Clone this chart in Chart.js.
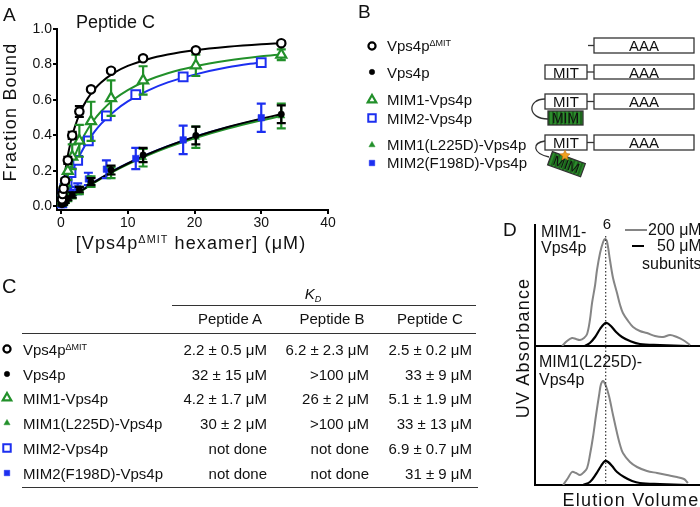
<!DOCTYPE html>
<html>
<head>
<meta charset="utf-8">
<script src="https://cdn.jsdelivr.net/npm/chart.js"></script>
<style>
  body { margin: 0; width: 700px; height: 507px; background: #fff; overflow: hidden; position: relative; font-family: "Liberation Sans", Arial, sans-serif; }
  canvas { position: absolute; }
  .t { position: absolute; line-height: 1; white-space: nowrap; color: #111; font-family: "Liberation Sans", Arial, sans-serif; }
  .t sup { font-size: 60%; vertical-align: 0.55em; line-height: 0; }
  .t sub { font-size: 60%; vertical-align: -0.3em; line-height: 0; }
  .mk { position: absolute; }
</style>
</head>
<body>
<canvas id="chartA" width="340" height="262" style="left:0;top:0"></canvas>
<canvas id="traceTop" width="167" height="123" style="left:533px;top:224px"></canvas>
<canvas id="traceBottom" width="167" height="141" style="left:533px;top:345px"></canvas>

<svg width="700" height="507" style="position:absolute;left:0;top:0">
  <defs>
    <pattern id="stripes" width="4" height="4" patternUnits="userSpaceOnUse">
      <rect width="4" height="4" fill="#2c8c2c"/>
      <line x1="1" y1="0" x2="1" y2="4" stroke="#135213" stroke-width="1.3"/>
    </pattern>
  </defs>
  <g stroke="#333" stroke-width="1.3" fill="#fff">
    <line x1="588" y1="45.5" x2="594" y2="45.5"/>
    <rect x="594" y="38" width="100" height="15"/>
    <rect x="545" y="65" width="42" height="14"/>
    <line x1="587" y1="72" x2="594" y2="72"/>
    <rect x="594" y="65" width="100" height="14"/>
    <rect x="545" y="94" width="42" height="15"/>
    <line x1="587" y1="101.5" x2="594" y2="101.5"/>
    <rect x="594" y="94" width="100" height="15"/>
    <path d="M545,99 C527,99 527,119 548,119" fill="none"/>
    <rect x="548" y="111" width="35" height="14" fill="url(#stripes)"/>
    <rect x="545" y="135" width="42" height="15"/>
    <line x1="587" y1="142.5" x2="594" y2="142.5"/>
    <rect x="594" y="135" width="100" height="15"/>
    <path d="M545,141 C532,143 532,153 549,157" fill="none"/>
    <g transform="rotate(20 566 164)">
      <rect x="549" y="157" width="35" height="14" fill="url(#stripes)"/>
      <text x="566.5" y="169" text-anchor="middle" font-size="14" fill="#111" stroke="none" font-family="Liberation Sans, Arial">MIM</text>
    </g>
    <polygon points="565,150 566.5,153.5 570,154 567.3,156.3 568,160 565,158 562,160 562.7,156.3 560,154 563.5,153.5" fill="#f0a020" stroke="#c07010" stroke-width="0.6"/>
  </g>
  <g font-family="Liberation Sans, Arial" font-size="15" fill="#111" text-anchor="middle">
    <text x="644" y="51">AAA</text>
    <text x="566" y="77.5">MIT</text><text x="644" y="77.5">AAA</text>
    <text x="566" y="107">MIT</text><text x="644" y="107">AAA</text>
    <text x="565.5" y="123" font-size="14">MIM</text>
    <text x="566" y="148">MIT</text><text x="644" y="148">AAA</text>
  </g>
</svg>

<script>
// ---- Panel A: binding data (Peptide C) ----
const concMain = [0.14, 0.23, 0.38, 0.62, 1.02, 1.68, 2.75, 4.5, 7.5, 12.3, 20.2, 33];
const concMim2 = [0.13, 0.21, 0.34, 0.56, 0.92, 1.5, 2.5, 4.1, 6.8, 11.2, 18.3, 30];

const deltaMitBound = [0.04, 0.07, 0.10, 0.145, 0.26, 0.40, 0.535, 0.66, 0.765, 0.835, 0.88, 0.92];
const deltaMitErr   = [0.01, 0.01, 0.01, 0.01, 0.02, 0.02, 0.03, 0.01, 0.01, 0.01, 0.01, 0.01];
const vps4pBound    = [0.01, 0.015, 0.02, 0.03, 0.045, 0.065, 0.095, 0.14, 0.205, 0.29, 0.40, 0.52];
const vps4pErr      = [0.005, 0.005, 0.01, 0.01, 0.01, 0.015, 0.015, 0.02, 0.025, 0.04, 0.05, 0.05];
const mim1Bound     = [0.03, 0.05, 0.08, 0.13, 0.20, 0.28, 0.37, 0.48, 0.61, 0.71, 0.795, 0.855];
const mim1Err       = [0.01, 0.01, 0.02, 0.03, 0.05, 0.07, 0.09, 0.11, 0.10, 0.08, 0.06, 0.03];
const mim1MutBound  = [0.01, 0.015, 0.02, 0.03, 0.04, 0.06, 0.09, 0.14, 0.19, 0.275, 0.39, 0.51];
const mim1MutErr    = [0.005, 0.01, 0.01, 0.01, 0.01, 0.015, 0.02, 0.03, 0.03, 0.05, 0.06, 0.07];
const mim2Bound     = [0.02, 0.04, 0.07, 0.10, 0.14, 0.19, 0.26, 0.37, 0.51, 0.63, 0.73, 0.81];
const mim2Err       = [0.01, 0.01, 0.01, 0.01, 0.015, 0.02, 0.02, 0.02, 0.02, 0.015, 0.015, 0.01];
const mim2MutBound  = [0.01, 0.02, 0.03, 0.05, 0.07, 0.08, 0.10, 0.155, 0.21, 0.27, 0.375, 0.50];
const mim2MutErr    = [0.01, 0.01, 0.01, 0.02, 0.02, 0.03, 0.03, 0.035, 0.05, 0.06, 0.08, 0.08];

// fitted curves
const fitConc      = [0, 0.25, 0.5, 1, 1.5, 2, 3, 4, 5, 6, 8, 10, 13, 16, 20, 25, 30, 33];
const fitDeltaMit  = [0, 0.09, 0.165, 0.283, 0.371, 0.44, 0.54, 0.609, 0.66, 0.699, 0.754, 0.792, 0.83, 0.856, 0.88, 0.90, 0.914, 0.92];
const fitVps4p     = [0, 0.008, 0.016, 0.031, 0.045, 0.059, 0.087, 0.112, 0.137, 0.16, 0.203, 0.242, 0.294, 0.34, 0.392, 0.448, 0.495, 0.52];
const fitMim1      = [0, 0.046, 0.088, 0.162, 0.225, 0.279, 0.367, 0.435, 0.49, 0.535, 0.605, 0.656, 0.711, 0.751, 0.789, 0.822, 0.846, 0.857];
const fitMim1Mut   = [0, 0.008, 0.016, 0.03, 0.044, 0.058, 0.085, 0.11, 0.134, 0.157, 0.199, 0.237, 0.288, 0.333, 0.384, 0.439, 0.485, 0.51];
const fitMim2      = [0, 0.035, 0.068, 0.127, 0.179, 0.225, 0.303, 0.367, 0.42, 0.465, 0.537, 0.592, 0.653, 0.699, 0.743, 0.784, 0.813];
const fitMim2Mut   = [0, 0.008, 0.016, 0.031, 0.046, 0.061, 0.088, 0.114, 0.139, 0.161, 0.205, 0.242, 0.295, 0.34, 0.392, 0.446, 0.492];

const xTicks = [0, 10, 20, 30, 40];
const yTicks = [0, 0.2, 0.4, 0.6, 0.8, 1.0];
const yTickLabels = ['0.0', '0.2', '0.4', '0.6', '0.8', '1.0'];

// ---- Panel C: KD table ----
const constructs = ['Vps4p<sup>ΔMIT</sup>', 'Vps4p', 'MIM1-Vps4p', 'MIM1(L225D)-Vps4p', 'MIM2-Vps4p', 'MIM2(F198D)-Vps4p'];
const constructKeys = ['dmit', 'vps4p', 'mim1', 'mim1m', 'mim2', 'mim2m'];
const peptides = ['Peptide A', 'Peptide B', 'Peptide C'];
const kdPeptideA = ['2.2 ± 0.5 μM', '32 ± 15 μM', '4.2 ± 1.7 μM', '30 ± 2 μM', 'not done', 'not done'];
const kdPeptideB = ['6.2 ± 2.3 μM', '>100 μM', '26 ± 2 μM', '>100 μM', 'not done', 'not done'];
const kdPeptideC = ['2.5 ± 0.2 μM', '33 ± 9 μM', '5.1 ± 1.9 μM', '33 ± 13 μM', '6.9 ± 0.7 μM', '31 ± 9 μM'];

// ---- Panel B: legend order ----
const schemeOrder = ['dmit', 'vps4p', 'mim1', 'mim2', 'mim1m', 'mim2m'];

// ---- Panel D: gel filtration traces (elution volume, absorbance) ----
const peakVolume = 6;
const topGrayVol = [4.15, 4.36, 4.57, 4.74, 4.91, 5.08, 5.21, 5.33, 5.42, 5.55, 5.63, 5.76, 5.89, 5.97, 6.05, 6.18, 6.31, 6.48, 6.61, 6.73, 6.95, 7.16, 7.45, 7.75, 8.09, 8.43, 8.73, 9.02, 9.28, 9.58];
const topGrayAbs = [0, 0.05, 0.08, 0.07, 0.06, 0.08, 0.12, 0.26, 0.43, 0.61, 0.76, 0.93, 1.04, 1.07, 1.05, 0.86, 0.68, 0.53, 0.41, 0.33, 0.25, 0.19, 0.15, 0.13, 0.10, 0.09, 0.11, 0.09, 0.06, 0.01];
const topBlackVol = [5.12, 5.33, 5.55, 5.76, 5.93, 6.05, 6.22, 6.44, 6.69, 7.03, 7.45, 8.30, 9.49];
const topBlackAbs = [0, 0.03, 0.09, 0.17, 0.22, 0.23, 0.20, 0.14, 0.09, 0.05, 0.02, 0.01, 0];
const botGrayVol = [4.19, 4.40, 4.57, 4.74, 4.91, 5.08, 5.21, 5.33, 5.46, 5.59, 5.72, 5.80, 5.89, 6.01, 6.14, 6.31, 6.48, 6.61, 6.73, 7.03, 7.33, 7.75, 8.18, 8.60, 9.02, 9.32, 9.49];
const botGrayAbs = [0, 0.07, 0.13, 0.12, 0.10, 0.13, 0.17, 0.30, 0.48, 0.70, 0.90, 1.01, 1.04, 0.99, 0.89, 0.70, 0.52, 0.40, 0.32, 0.23, 0.18, 0.14, 0.12, 0.10, 0.08, 0.06, 0.02];
const botBlackVol = [5.04, 5.33, 5.59, 5.80, 5.97, 6.10, 6.27, 6.48, 6.78, 7.12, 7.45, 8.30, 9.49];
const botBlackAbs = [0, 0.03, 0.11, 0.19, 0.24, 0.23, 0.19, 0.13, 0.08, 0.04, 0.02, 0.01, 0];

// ---- styles ----
const GREEN = '#22902a';
const BLUE = '#1c2ff0';
const FONT = '"Liberation Sans", Arial, sans-serif';
const markers = {
  dmit:  { pointStyle: 'circle',   radius: 4.2, fill: '#fff', color: '#000', bw: 2.2 },
  vps4p: { pointStyle: 'circle',   radius: 3.2, fill: '#000', color: '#000', bw: 0.5 },
  mim1:  { pointStyle: 'triangle', radius: 5.8, fill: '#fff', color: GREEN, bw: 2.2 },
  mim1m: { pointStyle: 'triangle', radius: 4.2, fill: GREEN, color: GREEN, bw: 0.5 },
  mim2:  { pointStyle: 'rect',     radius: 6.2, fill: '#fff', color: BLUE, bw: 2 },
  mim2m: { pointStyle: 'rect',     radius: 4.6, fill: BLUE, color: BLUE, bw: 0.5 }
};

const pts = (xs, ys) => ys.map((y, i) => ({ x: xs[i], y }));

function markerSet(key, xs, ys, errs) {
  const m = markers[key];
  return {
    type: 'scatter', data: pts(xs, ys), errors: errs, order: 0,
    pointStyle: m.pointStyle, pointRadius: m.radius,
    pointBackgroundColor: m.fill, pointBorderColor: m.color, pointBorderWidth: m.bw,
    borderColor: m.color, showLine: false
  };
}
function fitSet(ys, color) {
  return {
    type: 'line', data: pts(fitConc, ys), order: 1,
    borderColor: color, borderWidth: 2, pointRadius: 0,
    cubicInterpolationMode: 'monotone', fill: false
  };
}

const errorBars = {
  id: 'errorBars',
  beforeDatasetDraw(chart, args) {
    const ds = chart.data.datasets[args.index];
    if (!ds.errors) return;
    const { ctx, scales: { x, y } } = chart;
    ctx.save();
    ctx.strokeStyle = ds.borderColor;
    ctx.lineWidth = 2.2;
    ds.data.forEach((p, i) => {
      const px = x.getPixelForValue(p.x);
      const top = y.getPixelForValue(p.y + ds.errors[i]);
      const bot = y.getPixelForValue(p.y - ds.errors[i]);
      ctx.beginPath();
      ctx.moveTo(px, top); ctx.lineTo(px, bot);
      ctx.moveTo(px - 4.5, top); ctx.lineTo(px + 4.5, top);
      ctx.moveTo(px - 4.5, bot); ctx.lineTo(px + 4.5, bot);
      ctx.stroke();
    });
    ctx.restore();
  }
};

new Chart(document.getElementById('chartA'), {
  data: {
    datasets: [
      markerSet('dmit', concMain, deltaMitBound, deltaMitErr),
      markerSet('vps4p', concMain, vps4pBound, vps4pErr),
      markerSet('mim1', concMain, mim1Bound, mim1Err),
      markerSet('mim1m', concMain, mim1MutBound, mim1MutErr),
      markerSet('mim2', concMim2, mim2Bound, mim2Err),
      markerSet('mim2m', concMim2, mim2MutBound, mim2MutErr),
      fitSet(fitVps4p, '#000'),
      fitSet(fitDeltaMit, '#000'),
      fitSet(fitMim1, GREEN),
      fitSet(fitMim1Mut, GREEN),
      fitSet(fitMim2, BLUE),
      fitSet(fitMim2Mut, BLUE)
    ]
  },
  options: {
    responsive: false, animation: false,
    layout: { padding: { left: 0, right: 12, top: 29, bottom: 0 } },
    plugins: { legend: { display: false }, tooltip: { enabled: false } },
    elements: { point: { hitRadius: 0 } },
    scales: {
      x: {
        type: 'linear', min: -0.6, max: 40,
        afterBuildTicks: s => { s.ticks = xTicks.map(v => ({ value: v })); },
        afterFit: s => { s.height = 52; },
        border: { display: true, color: '#000', width: 2 },
        grid: { display: true, drawOnChartArea: false, drawTicks: true, tickLength: 4, color: '#000', lineWidth: 2 },
        ticks: { color: '#111', font: { family: FONT, size: 14 }, padding: 1, maxRotation: 0 }
      },
      y: {
        type: 'linear', min: -0.02, max: 1.0,
        afterBuildTicks: s => { s.ticks = yTicks.map(v => ({ value: v })); },
        afterFit: s => { s.width = 57; },
        border: { display: true, color: '#000', width: 2 },
        grid: { display: true, drawOnChartArea: false, drawTicks: true, tickLength: 4, color: '#000', lineWidth: 2 },
        ticks: { color: '#111', font: { family: FONT, size: 14 }, padding: 1, callback: (v, i) => yTickLabels[yTicks.indexOf(v)] }
      }
    }
  },
  plugins: [errorBars]
});

// ---- Panel D charts ----
function traceChart(id, yMax, gx, gy, bx, by, dotTop) {
  new Chart(document.getElementById(id), {
    type: 'line',
    data: {
      datasets: [
        { data: pts(bx, by), borderColor: '#000', borderWidth: 2.2, pointRadius: 0, tension: 0.35 },
        { data: [{ x: peakVolume, y: 0 }, { x: peakVolume, y: dotTop }], borderColor: '#222', borderWidth: 1.1, borderDash: [1.5, 2], pointRadius: 0 },
        { data: pts(gx, gy), borderColor: '#858585', borderWidth: 2, pointRadius: 0, tension: 0.35 }
      ]
    },
    options: {
      responsive: false, animation: false,
      layout: { padding: { left: 2, right: 0, top: 1, bottom: 1 } },
      plugins: { legend: { display: false }, tooltip: { enabled: false } },
      scales: {
        x: {
          type: 'linear', min: 3, max: 10,
          afterFit: s => { s.height = 0; },
          border: { display: true, color: '#000', width: 2 },
          grid: { display: false, drawTicks: false }, ticks: { display: false }
        },
        y: {
          type: 'linear', min: 0, max: yMax,
          afterFit: s => { s.width = 0; },
          border: { display: true, color: '#000', width: 2 },
          grid: { display: false, drawTicks: false }, ticks: { display: false }
        }
      }
    }
  });
}
traceChart('traceTop', 1.21, topGrayVol, topGrayAbs, topBlackVol, topBlackAbs, 1.12);
traceChart('traceBottom', 1.39, botGrayVol, botGrayAbs, botBlackVol, botBlackAbs, 1.39);

// ---- text helpers ----
function put(html, x, y, size, align, extra) {
  const d = document.createElement('div');
  d.className = 't';
  d.innerHTML = html;
  d.style.fontSize = size + 'px';
  d.style.left = x + 'px';
  d.style.top = (y - 0.5 * size) + 'px';
  const tx = align === 'center' ? '-50%' : align === 'right' ? '-100%' : '0';
  d.style.transform = 'translateX(' + tx + ')';
  Object.assign(d.style, extra || {});
  document.body.appendChild(d);
  return d;
}
function marker(key, cx, cy) {
  const m = markers[key];
  const c = document.createElement('canvas');
  c.width = 16; c.height = 16; c.className = 'mk';
  c.style.left = (cx - 8) + 'px'; c.style.top = (cy - 8) + 'px';
  document.body.appendChild(c);
  const ctx = c.getContext('2d');
  ctx.fillStyle = m.fill; ctx.strokeStyle = m.color; ctx.lineWidth = m.bw;
  Chart.helpers.drawPoint(ctx, { pointStyle: m.pointStyle, radius: m.radius * 0.85, borderWidth: m.bw, rotation: 0 }, 8, 8);
}

// panel letters
put('A', 3, 14, 19);
put('B', 358, 11, 19);
put('C', 2, 286, 20);
put('D', 503, 229, 19);

// panel A text
put('Peptide C', 76, 22, 18);
const yTitle = put('Fraction Bound', 10, 112, 18, null, { letterSpacing: '1.2px' });
yTitle.style.transform = 'translate(-50%, 0) rotate(-90deg)';
yTitle.style.transformOrigin = '50% 50%';
put('[Vps4p<sup>ΔMIT</sup> hexamer] (μM)', 191, 243, 18, 'center', { letterSpacing: '1.1px' });

// panel B legend
const schemeNames = { dmit: 'Vps4p<sup>ΔMIT</sup>', vps4p: 'Vps4p', mim1: 'MIM1-Vps4p', mim2: 'MIM2-Vps4p', mim1m: 'MIM1(L225D)-Vps4p', mim2m: 'MIM2(F198D)-Vps4p' };
const schemeRowY = [45.5, 72, 99.5, 118, 144.5, 162.5];
schemeOrder.forEach((k, i) => {
  marker(k, 371.5, schemeRowY[i]);
  put(schemeNames[k], 387, schemeRowY[i], 15);
});

// panel C table
put('<i>K</i><sub><i>D</i></sub>', 313, 293, 15, 'center');
const hr = (x, y, w) => { const d = document.createElement('div'); d.style.cssText = `position:absolute;left:${x}px;top:${y}px;width:${w}px;height:1.4px;background:#333`; document.body.appendChild(d); };
hr(172, 304.5, 304);
hr(22, 332.5, 454);
hr(22, 486.5, 456);
const colCenters = [230, 332, 430];
const colRights = [267, 369, 472];
peptides.forEach((p, i) => put(p, colCenters[i], 318.5, 15, 'center'));
const rowY = [349, 374, 398, 423, 448, 473];
constructs.forEach((name, i) => {
  marker(constructKeys[i], 6.5, rowY[i]);
  put(name, 23, rowY[i], 15);
  put(kdPeptideA[i], colRights[0], rowY[i], 15, 'right');
  put(kdPeptideB[i], colRights[1], rowY[i], 15, 'right');
  put(kdPeptideC[i], colRights[2], rowY[i], 15, 'right');
});

// panel D text
put('6', 607, 223, 15, 'center');
put('MIM1-', 541, 232, 16);
put('Vps4p', 541, 248, 16);
put('MIM1(L225D)-', 539, 362, 16);
put('Vps4p', 539, 380, 16);
const legLine = (x, y, w, color) => { const d = document.createElement('div'); d.style.cssText = `position:absolute;left:${x}px;top:${y}px;width:${w}px;height:2px;background:${color}`; document.body.appendChild(d); };
legLine(625, 229, 22, '#858585');
put('200 μM', 648, 230, 16);
legLine(632, 245, 12, '#000');
put('50 μM', 657, 246, 16);
put('subunits', 642, 264, 16);
const uv = put('UV Absorbance', 523, 348, 18, null, { letterSpacing: '1.2px' });
uv.style.transform = 'translate(-50%, 0) rotate(-90deg)';
put('Elution Volume', 631, 500, 18, 'center', { letterSpacing: '1.2px' });
</script>
</body>
</html>
